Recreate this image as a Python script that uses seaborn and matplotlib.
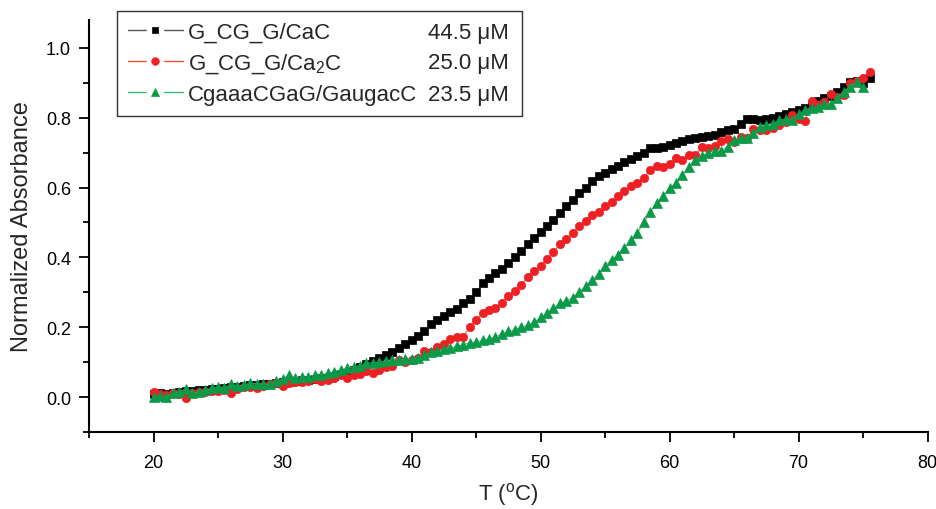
import numpy as np
import pandas as pd
import matplotlib
matplotlib.use('Agg')
import matplotlib.pyplot as plt
import seaborn as sns
from matplotlib.lines import Line2D
from matplotlib.legend_handler import HandlerTuple
from matplotlib.ticker import MultipleLocator, FormatStrFormatter

# temperatures (0.5 C steps)
temp = [
    20.0, 20.5, 21.0, 21.5, 22.0, 22.5, 23.0, 23.5, 24.0, 24.5,
    25.0, 25.5, 26.0, 26.5, 27.0, 27.5, 28.0, 28.5, 29.0, 29.5,
    30.0, 30.5, 31.0, 31.5, 32.0, 32.5, 33.0, 33.5, 34.0, 34.5,
    35.0, 35.5, 36.0, 36.5, 37.0, 37.5, 38.0, 38.5, 39.0, 39.5,
    40.0, 40.5, 41.0, 41.5, 42.0, 42.5, 43.0, 43.5, 44.0, 44.5,
    45.0, 45.5, 46.0, 46.5, 47.0, 47.5, 48.0, 48.5, 49.0, 49.5,
    50.0, 50.5, 51.0, 51.5, 52.0, 52.5, 53.0, 53.5, 54.0, 54.5,
    55.0, 55.5, 56.0, 56.5, 57.0, 57.5, 58.0, 58.5, 59.0, 59.5,
    60.0, 60.5, 61.0, 61.5, 62.0, 62.5, 63.0, 63.5, 64.0, 64.5,
    65.0, 65.5, 66.0, 66.5, 67.0, 67.5, 68.0, 68.5, 69.0, 69.5,
    70.0, 70.5, 71.0, 71.5, 72.0, 72.5, 73.0, 73.5, 74.0, 74.5,
    75.0, 75.5,
]

# G_CG_G/CaC  44.5 uM
abs_cac = [
    0.010, 0.012, 0.008, 0.012, 0.014, 0.016, 0.017, 0.019, 0.020, 0.022,
    0.024, 0.026, 0.028, 0.030, 0.032, 0.034, 0.035, 0.037, 0.038, 0.040,
    0.042, 0.044, 0.046, 0.048, 0.050, 0.052, 0.054, 0.056, 0.060, 0.065,
    0.070, 0.078, 0.086, 0.095, 0.103, 0.112, 0.120, 0.130, 0.140, 0.152,
    0.164, 0.176, 0.190, 0.208, 0.220, 0.232, 0.245, 0.252, 0.270, 0.282,
    0.300, 0.326, 0.340, 0.355, 0.368, 0.383, 0.400, 0.418, 0.437, 0.455,
    0.472, 0.490, 0.508, 0.528, 0.548, 0.565, 0.585, 0.600, 0.620, 0.632,
    0.643, 0.652, 0.662, 0.672, 0.683, 0.690, 0.700, 0.712, 0.714, 0.716,
    0.722, 0.728, 0.732, 0.738, 0.743, 0.745, 0.747, 0.750, 0.760, 0.765,
    0.768, 0.782, 0.795, 0.796, 0.792, 0.797, 0.800, 0.805, 0.810, 0.817,
    0.822, 0.828, 0.835, 0.848, 0.856, 0.862, 0.875, 0.888, 0.902, 0.904,
    0.900, 0.915,
]

# G_CG_G/Ca2C  25.0 uM
abs_ca2c = [
    0.015, 0.010, 0.005, 0.012, 0.008, -0.004, 0.012, 0.015, 0.014, 0.018,
    0.016, 0.020, 0.012, 0.024, 0.028, 0.030, 0.027, 0.032, 0.036, 0.040,
    0.033, 0.040, 0.044, 0.042, 0.046, 0.051, 0.046, 0.050, 0.056, 0.063,
    0.055, 0.062, 0.065, 0.076, 0.070, 0.078, 0.085, 0.088, 0.105, 0.100,
    0.106, 0.112, 0.131, 0.130, 0.142, 0.152, 0.166, 0.172, 0.172, 0.200,
    0.220, 0.240, 0.248, 0.255, 0.270, 0.289, 0.305, 0.320, 0.345, 0.361,
    0.375, 0.395, 0.415, 0.438, 0.452, 0.470, 0.490, 0.505, 0.522, 0.530,
    0.548, 0.560, 0.575, 0.590, 0.604, 0.614, 0.628, 0.650, 0.662, 0.660,
    0.668, 0.685, 0.678, 0.692, 0.692, 0.716, 0.712, 0.719, 0.732, 0.740,
    0.729, 0.745, 0.742, 0.767, 0.765, 0.765, 0.771, 0.780, 0.787, 0.808,
    0.795, 0.790, 0.848, 0.835, 0.845, 0.867, 0.860, 0.865, 0.899, 0.905,
    0.915, 0.930,
]

# CgaaaCGaG/GaugacC  23.5 uM (ends at 75.0 C)
abs_gaug = [
    0.000, 0.003, 0.000, 0.012, 0.015, 0.022, 0.012, 0.014, 0.020, 0.025,
    0.028, 0.026, 0.037, 0.032, 0.034, 0.039, 0.038, 0.036, 0.036, 0.047,
    0.051, 0.063, 0.055, 0.058, 0.058, 0.063, 0.063, 0.068, 0.072, 0.078,
    0.082, 0.086, 0.090, 0.097, 0.098, 0.100, 0.102, 0.105, 0.107, 0.108,
    0.110, 0.112, 0.120, 0.128, 0.132, 0.137, 0.140, 0.145, 0.150, 0.155,
    0.158, 0.162, 0.166, 0.172, 0.180, 0.188, 0.192, 0.200, 0.205, 0.214,
    0.228, 0.240, 0.255, 0.268, 0.275, 0.285, 0.300, 0.318, 0.335, 0.352,
    0.375, 0.393, 0.408, 0.428, 0.450, 0.470, 0.500, 0.530, 0.555, 0.575,
    0.598, 0.612, 0.635, 0.658, 0.678, 0.690, 0.700, 0.704, 0.705, 0.716,
    0.735, 0.741, 0.742, 0.755, 0.772, 0.780, 0.782, 0.793, 0.795, 0.793,
    0.810, 0.822, 0.827, 0.830, 0.840, 0.839, 0.855, 0.875, 0.888, 0.902,
    0.887,
]

names = ['G_CG_G/CaC', 'G_CG_G/Ca$_2$C', 'CgaaaCGaG/GaugacC']
concs = ['44.5 \u03bcM', '25.0 \u03bcM', '23.5 \u03bcM']
marker_colors = ['#000000', '#ee2024', '#0b9a48']
line_colors = ['#555555', '#f0503c', '#3cb878']
markers = ['s', 'o', '^']
msizes = [5.5, 6, 6.5]

sns.set_style('ticks')
plt.rcParams['font.family'] = ['Liberation Sans', 'DejaVu Sans']
plt.rcParams['mathtext.fontset'] = 'custom'
plt.rcParams['mathtext.rm'] = 'Liberation Sans'
plt.rcParams['mathtext.it'] = 'Liberation Sans:italic'

fig = plt.figure(figsize=(9.37, 5.10), dpi=100)
ax = fig.add_axes([0.095, 0.151, 0.895, 0.808])

series = [abs_cac, abs_ca2c, abs_gaug]
for vals, mc, lc, mk, ms in zip(series, marker_colors, line_colors, markers, msizes):
    df = pd.DataFrame({'T': temp[:len(vals)], 'A': vals})
    sns.lineplot(data=df, x='T', y='A', ax=ax, color=lc, linewidth=0.7,
                 marker=mk, markersize=ms, markerfacecolor=mc,
                 markeredgecolor=mc, markeredgewidth=0.5, sort=False)

ax.set_xlim(15, 80)
ax.set_ylim(-0.1, 1.08)
ax.xaxis.set_major_locator(MultipleLocator(10))
ax.xaxis.set_minor_locator(MultipleLocator(5))
ax.set_yticks([0.0, 0.2, 0.4, 0.6, 0.8, 1.0])
ax.yaxis.set_minor_locator(MultipleLocator(0.1))
ax.tick_params(which='major', direction='out', length=7, width=1.3,
               labelsize=13, color='black', labelcolor='black')
ax.tick_params(which='minor', direction='out', length=4.5, width=1.3, color='black')
ax.tick_params(axis='x', which='major', pad=9)
ax.tick_params(axis='y', which='major', pad=6)
ax.xaxis.set_major_formatter(FormatStrFormatter('%d'))
ax.yaxis.set_major_formatter(FormatStrFormatter('%.1f'))
for s in ['top', 'right']:
    ax.spines[s].set_visible(False)
for s in ['left', 'bottom']:
    ax.spines[s].set_linewidth(1.5)
    ax.spines[s].set_color('black')

ax.set_xlabel('T ($^{\\rm o}$C)', fontsize=16, labelpad=6)
ax.set_ylabel('Normalized Absorbance', fontsize=17, labelpad=9)

# legend handles: line, white gap, marker (overlaid)
handles = []
for mc, lc, mk, ms in zip(marker_colors, line_colors, markers, msizes):
    ln = Line2D([0], [0], color=lc, lw=1.0)
    gap = Line2D([0], [0], linestyle='none', marker='s', markersize=11,
                 markerfacecolor='white', markeredgecolor='white')
    dot = Line2D([0], [0], linestyle='none', marker=mk, markersize=ms - 0.5,
                 markerfacecolor=mc, markeredgecolor=mc, markeredgewidth=0.5)
    handles.append((ln, gap, dot))

leg = ax.legend(handles, names, loc='upper left', mode='expand',
                handler_map={tuple: HandlerTuple(ndivide=1, pad=0)},
                bbox_to_anchor=(117 / 937, 1 - 12 / 510, 405 / 937, 0.0),
                bbox_transform=fig.transFigure, borderaxespad=0,
                fontsize=16, handlelength=2.45, handletextpad=0.25,
                labelspacing=0.38, borderpad=0.5, frameon=True, fancybox=False,
                framealpha=1, edgecolor='#333333')
leg.get_frame().set_linewidth(1.0)

fig.canvas.draw()
inv = fig.transFigure.inverted()
for txt, conc in zip(leg.get_texts(), concs):
    bb = txt.get_window_extent()
    x_fig, y_fig = inv.transform((0, bb.y1))
    fig.text(509 / 937, y_fig, conc, ha='right', va='top', fontsize=16)

fig.savefig('out.png', dpi=100)
